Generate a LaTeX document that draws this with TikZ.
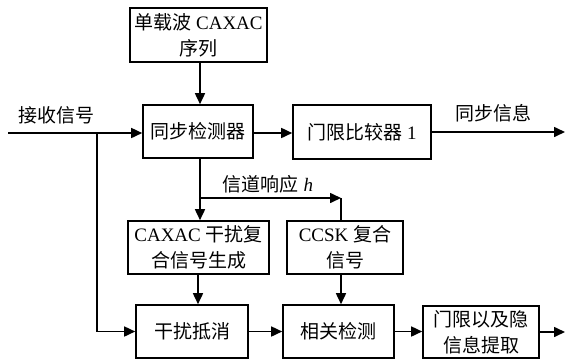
\documentclass[tikz,border=0pt]{standalone}
\usepackage{fontspec}
\setmainfont{Liberation Serif}
\newfontfamily\cjk{Noto Sans CJK SC}
\newcommand\zh[1]{{\cjk #1}}
\usetikzlibrary{arrows.meta}
\begin{document}
\begin{tikzpicture}[x=1pt,y=-1pt,
  font=\fontsize{19}{26}\selectfont,
  box/.style={draw,line width=1.6pt,inner sep=0pt,align=center},
  conn/.style={line width=1.6pt},
  arr/.style={conn,-{Triangle[length=11pt,width=10pt]}}]
\useasboundingbox (0,0) rectangle (565,360);
\node[box,minimum width=137pt,minimum height=54pt] (seq) at (198.5,35) {\zh{单载波} CAXAC\\\zh{序列}};
\node[box,minimum width=110pt,minimum height=53pt] (sync) at (198,131.5) {\zh{同步检测器}};
\node[box,minimum width=138pt,minimum height=54pt] (thr) at (362,132) {\zh{门限比较器} 1};
\node[box,minimum width=141pt,minimum height=53pt] (cax) at (198.5,247.5) {CAXAC \zh{干扰复}\\\zh{合信号生成}};
\node[box,minimum width=116pt,minimum height=53pt] (ccsk) at (345,247.5) {CCSK \zh{复合}\\\zh{信号}};
\node[box,minimum width=112pt,minimum height=53pt] (canc) at (192,331.5) {\zh{干扰抵消}};
\node[box,minimum width=111pt,minimum height=53pt] (corr) at (338.5,331.5) {\zh{相关检测}};
\node[box,minimum width=116pt,minimum height=52pt] (ext) at (481,332) {\zh{门限以及隐}\\\zh{信息提取}};
\node (lin) at (57,115) {\zh{接收信号}};
\node (lsy) at (493,113) {\zh{同步信息}};
\node (lch) at (268,184) {\zh{信道响应} \textit{h}};
\coordinate (in) at (8,133);
\coordinate (br) at (97,133);
\coordinate (ch) at (200,198);
\coordinate (cn) at (341,198);
\coordinate (o1) at (565,132);
\coordinate (o2) at (565,332);
\draw[arr] (seq.south -| 200,0) -- (sync.north -| 200,0);
\draw[arr] (in) -- (sync.west |- in);
\draw[arr] (sync.east |- 0,133) -- (thr.west |- 0,133);
\draw[arr] (thr.east) -- (o1);
\draw[conn] (sync.south -| ch) -- (ch);
\draw[arr] (ch) -- (cn);
\draw[conn] (cn) -- (ccsk.north -| cn);
\draw[arr] (ch) -- (cax.north -| ch);
\draw[arr] (cax.south -| 198,0) -- (canc.north -| 198,0);
\draw[arr] (ccsk.south -| cn) -- (corr.north -| cn);
\draw[arr] (br) |- (canc.west);
\draw[arr] (canc.east) -- (corr.west);
\draw[arr] (corr.east) -- (ext.west |- corr.east);
\draw[arr] (ext.east |- o2) -- (o2);
\end{tikzpicture}
\end{document}
